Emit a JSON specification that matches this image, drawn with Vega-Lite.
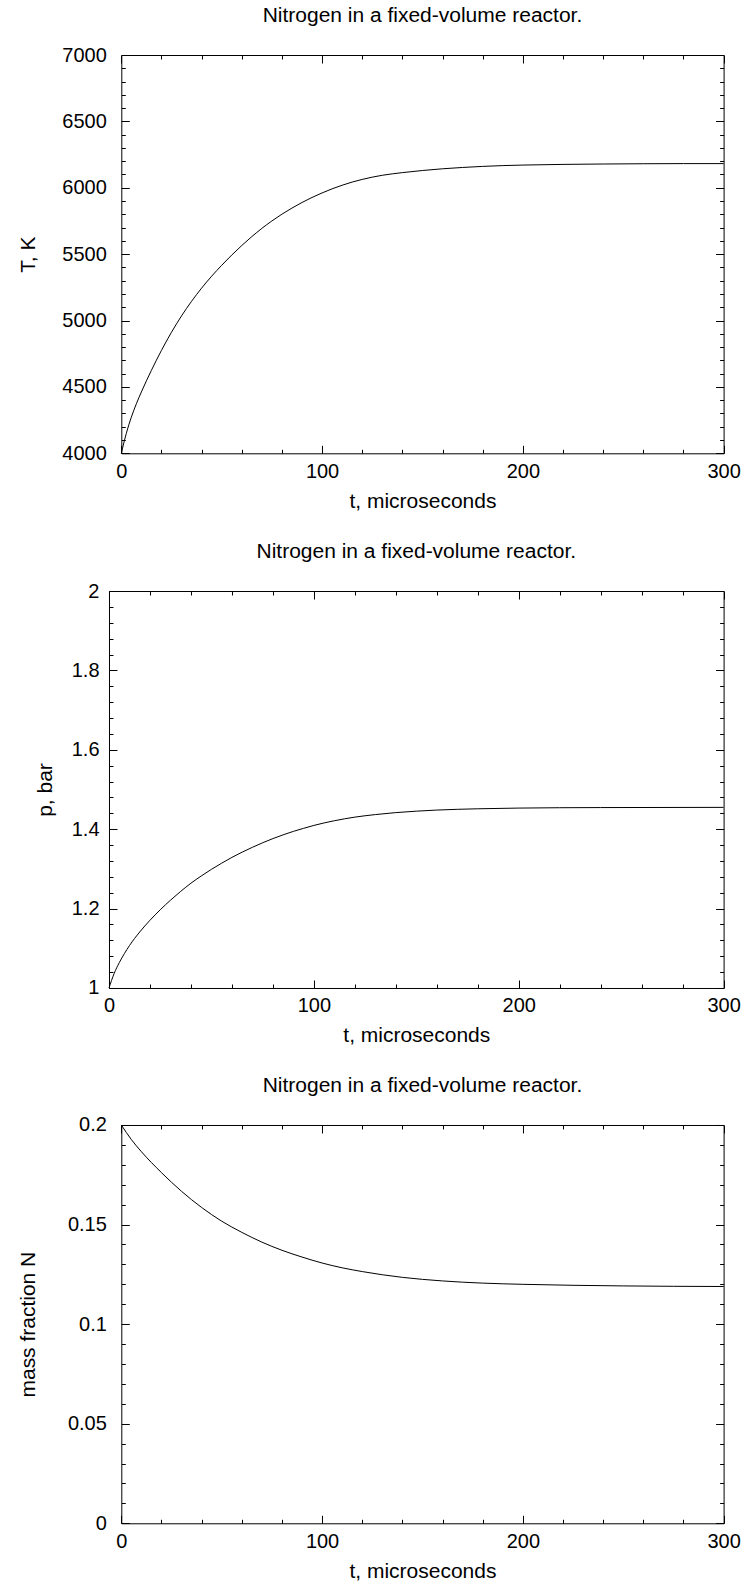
{
  "$schema": "https://vega.github.io/schema/vega-lite/v6.json",
  "padding": {"left": 17, "top": 5, "right": 5, "bottom": 5},
  "bounds": "flush",
  "spacing": 137,
  "config": {
    "view": {"stroke": null},
    "font": "Liberation Sans",
    "axis": {
      "domainColor": "black", "domainWidth": 1, "tickColor": "black", "tickWidth": 1,
      "labelColor": "black", "labelFontSize": 20, "titleFontSize": 21, "titleFontWeight": "normal",
      "titleColor": "black", "labelFlush": false, "labelOverlap": false, "grid": false,
      "labelFont": "Liberation Sans", "titleFont": "Liberation Sans"
    },
    "title": {"fontSize": 21, "fontWeight": "normal", "color": "black", "font": "Liberation Sans", "frame": "group", "anchor": "middle", "offset": 19, "baseline": "alphabetic"}
  },
  "datasets": {
    "T": [
      {"t": 0, "v": 4000}, {"t": 2.5, "v": 4150}, {"t": 5, "v": 4272}, {"t": 7.5, "v": 4373},
      {"t": 10, "v": 4462}, {"t": 15, "v": 4625}, {"t": 20, "v": 4775}, {"t": 25, "v": 4912},
      {"t": 30, "v": 5035}, {"t": 35, "v": 5145}, {"t": 40, "v": 5244}, {"t": 45, "v": 5334},
      {"t": 50, "v": 5416}, {"t": 55, "v": 5493}, {"t": 60, "v": 5565}, {"t": 65, "v": 5632},
      {"t": 70, "v": 5694}, {"t": 75, "v": 5750}, {"t": 80, "v": 5801}, {"t": 85, "v": 5847},
      {"t": 90, "v": 5889}, {"t": 95, "v": 5927}, {"t": 100, "v": 5961}, {"t": 105, "v": 5992},
      {"t": 110, "v": 6019}, {"t": 115, "v": 6043}, {"t": 120, "v": 6063}, {"t": 125, "v": 6080},
      {"t": 130, "v": 6094}, {"t": 135, "v": 6105}, {"t": 140, "v": 6114}, {"t": 150, "v": 6130},
      {"t": 160, "v": 6143}, {"t": 170, "v": 6153}, {"t": 180, "v": 6161}, {"t": 190, "v": 6167},
      {"t": 200, "v": 6171}, {"t": 220, "v": 6176}, {"t": 240, "v": 6179}, {"t": 260, "v": 6181},
      {"t": 280, "v": 6182}, {"t": 300, "v": 6182}
    ],
    "P": [
      {"t": 0, "v": 1.0}, {"t": 2.5, "v": 1.0364}, {"t": 5, "v": 1.0637}, {"t": 7.5, "v": 1.0865},
      {"t": 10, "v": 1.1069}, {"t": 15, "v": 1.1411}, {"t": 20, "v": 1.1706}, {"t": 25, "v": 1.197},
      {"t": 30, "v": 1.2211}, {"t": 35, "v": 1.2434}, {"t": 40, "v": 1.2639}, {"t": 45, "v": 1.2821},
      {"t": 50, "v": 1.2989}, {"t": 55, "v": 1.3144}, {"t": 60, "v": 1.329}, {"t": 65, "v": 1.3422},
      {"t": 70, "v": 1.3544}, {"t": 75, "v": 1.3658}, {"t": 80, "v": 1.3763}, {"t": 85, "v": 1.3858},
      {"t": 90, "v": 1.3945}, {"t": 95, "v": 1.4022}, {"t": 100, "v": 1.4095}, {"t": 110, "v": 1.4213},
      {"t": 120, "v": 1.4304}, {"t": 130, "v": 1.4368}, {"t": 140, "v": 1.4418}, {"t": 150, "v": 1.4454},
      {"t": 160, "v": 1.4482}, {"t": 180, "v": 1.4514}, {"t": 200, "v": 1.4532}, {"t": 240, "v": 1.4545},
      {"t": 300, "v": 1.455}
    ],
    "Y": [
      {"t": 0, "v": 0.2}, {"t": 5, "v": 0.1927}, {"t": 10, "v": 0.1866}, {"t": 20, "v": 0.1761},
      {"t": 30, "v": 0.1667}, {"t": 40, "v": 0.1586}, {"t": 50, "v": 0.1517}, {"t": 60, "v": 0.1461},
      {"t": 70, "v": 0.1412}, {"t": 80, "v": 0.1371}, {"t": 90, "v": 0.1337}, {"t": 100, "v": 0.1307},
      {"t": 110, "v": 0.1283}, {"t": 120, "v": 0.1264}, {"t": 140, "v": 0.1235}, {"t": 160, "v": 0.1217},
      {"t": 180, "v": 0.1206}, {"t": 200, "v": 0.12}, {"t": 250, "v": 0.1192}, {"t": 300, "v": 0.1189}
    ]
  },
  "vconcat": [
    {
      "width": 614.6, "height": 398.3,
      "title": {"text": "Nitrogen in a fixed-volume reactor.", "dx": 6.15},
      "data": {"name": "T"},
      "resolve": {"axis": {"x": "independent", "y": "independent"}},
      "layer": [
        {
          "mark": {"type": "line", "color": "black", "strokeWidth": 1, "interpolate": "monotone"},
          "encoding": {
            "x": {"field": "t", "type": "quantitative", "scale": {"domain": [0, 300], "nice": false, "range": [12.3, 614.6]},
              "axis": {"orient": "bottom", "values": [0,20,40,60,80,100,120,140,160,180,200,220,240,260,280,300], "format": "d",
                "labelExpr": "datum.value % 100 === 0 ? datum.label : ''",
                "tickSize": {"condition": {"test": "datum.value % 100 === 0", "value": -8}, "value": -4},
                "labelPadding": 16, "title": "t, microseconds", "titlePadding": 5}},
            "y": {"field": "v", "type": "quantitative", "scale": {"domain": [4000, 7000], "nice": false, "zero": false},
              "axis": {"orient": "left", "offset": -12.3, "values": [4000,4100,4200,4300,4400,4500,4600,4700,4800,4900,5000,5100,5200,5300,5400,5500,5600,5700,5800,5900,6000,6100,6200,6300,6400,6500,6600,6700,6800,6900,7000], "format": "d",
                "labelExpr": "datum.value % 500 === 0 ? datum.label : ''",
                "tickSize": {"condition": {"test": "datum.value % 500 === 0", "value": -8}, "value": -4},
                "labelPadding": 23, "title": "T, K", "titlePadding": 23}}
          }
        },
        {
          "mark": {"type": "line", "opacity": 0},
          "encoding": {
            "x": {"field": "t", "type": "quantitative", "scale": {"domain": [0, 300], "nice": false, "range": [12.3, 614.6]},
              "axis": {"orient": "top", "values": [0,20,40,60,80,100,120,140,160,180,200,220,240,260,280,300], "labels": false,
                "tickSize": {"condition": {"test": "datum.value % 100 === 0", "value": -8}, "value": -4}, "title": null}},
            "y": {"field": "v", "type": "quantitative", "scale": {"domain": [4000, 7000], "nice": false, "zero": false},
              "axis": {"orient": "right", "values": [4000,4100,4200,4300,4400,4500,4600,4700,4800,4900,5000,5100,5200,5300,5400,5500,5600,5700,5800,5900,6000,6100,6200,6300,6400,6500,6600,6700,6800,6900,7000], "labels": false,
                "tickSize": {"condition": {"test": "datum.value % 500 === 0", "value": -8}, "value": -4}, "title": null}}
          }
        }
      ]
    },
    {
      "width": 614.6, "height": 397,
      "title": {"text": "Nitrogen in a fixed-volume reactor."},
      "data": {"name": "P"},
      "resolve": {"axis": {"x": "independent", "y": "independent"}},
      "layer": [
        {
          "mark": {"type": "line", "color": "black", "strokeWidth": 1, "interpolate": "monotone"},
          "encoding": {
            "x": {"field": "t", "type": "quantitative", "scale": {"domain": [0, 300], "nice": false},
              "axis": {"orient": "bottom", "values": [0,20,40,60,80,100,120,140,160,180,200,220,240,260,280,300], "format": "d",
                "labelExpr": "datum.value % 100 === 0 ? datum.label : ''",
                "tickSize": {"condition": {"test": "datum.value % 100 === 0", "value": -8}, "value": -4},
                "labelPadding": 16, "title": "t, microseconds", "titlePadding": 5}},
            "y": {"field": "v", "type": "quantitative", "scale": {"domain": [1, 2], "nice": false, "zero": false},
              "axis": {"orient": "left", "values": [1,1.04,1.08,1.12,1.16,1.2,1.24,1.28,1.32,1.36,1.4,1.44,1.48,1.52,1.56,1.6,1.64,1.68,1.72,1.76,1.8,1.84,1.88,1.92,1.96,2], "format": "~g",
                "labelExpr": "abs(datum.value * 5 - round(datum.value * 5)) < 0.001 ? datum.label : ''",
                "tickSize": {"condition": {"test": "abs(datum.value * 5 - round(datum.value * 5)) < 0.001", "value": -8}, "value": -4},
                "labelPadding": 18, "title": "p, bar", "titlePadding": 16}}
          }
        },
        {
          "mark": {"type": "line", "opacity": 0},
          "encoding": {
            "x": {"field": "t", "type": "quantitative", "scale": {"domain": [0, 300], "nice": false},
              "axis": {"orient": "top", "values": [0,20,40,60,80,100,120,140,160,180,200,220,240,260,280,300], "labels": false,
                "tickSize": {"condition": {"test": "datum.value % 100 === 0", "value": -8}, "value": -4}, "title": null}},
            "y": {"field": "v", "type": "quantitative", "scale": {"domain": [1, 2], "nice": false, "zero": false},
              "axis": {"orient": "right", "values": [1,1.04,1.08,1.12,1.16,1.2,1.24,1.28,1.32,1.36,1.4,1.44,1.48,1.52,1.56,1.6,1.64,1.68,1.72,1.76,1.8,1.84,1.88,1.92,1.96,2], "labels": false,
                "tickSize": {"condition": {"test": "abs(datum.value * 5 - round(datum.value * 5)) < 0.001", "value": -8}, "value": -4}, "title": null}}
          }
        }
      ]
    },
    {
      "width": 614.6, "height": 398.3,
      "title": {"text": "Nitrogen in a fixed-volume reactor.", "dx": 6.15},
      "data": {"name": "Y"},
      "resolve": {"axis": {"x": "independent", "y": "independent"}},
      "layer": [
        {
          "mark": {"type": "line", "color": "black", "strokeWidth": 1, "interpolate": "monotone"},
          "encoding": {
            "x": {"field": "t", "type": "quantitative", "scale": {"domain": [0, 300], "nice": false, "range": [12.3, 614.6]},
              "axis": {"orient": "bottom", "values": [0,20,40,60,80,100,120,140,160,180,200,220,240,260,280,300], "format": "d",
                "labelExpr": "datum.value % 100 === 0 ? datum.label : ''",
                "tickSize": {"condition": {"test": "datum.value % 100 === 0", "value": -8}, "value": -4},
                "labelPadding": 16, "title": "t, microseconds", "titlePadding": 5}},
            "y": {"field": "v", "type": "quantitative", "scale": {"domain": [0, 0.2], "nice": false, "zero": false},
              "axis": {"orient": "left", "offset": -12.3, "values": [0,0.01,0.02,0.03,0.04,0.05,0.06,0.07,0.08,0.09,0.1,0.11,0.12,0.13,0.14,0.15,0.16,0.17,0.18,0.19,0.2], "format": "~g",
                "labelExpr": "abs(datum.value * 20 - round(datum.value * 20)) < 0.001 ? datum.label : ''",
                "tickSize": {"condition": {"test": "abs(datum.value * 20 - round(datum.value * 20)) < 0.001", "value": -8}, "value": -4},
                "labelPadding": 23, "title": "mass fraction N", "titlePadding": 29}}
          }
        },
        {
          "mark": {"type": "line", "opacity": 0},
          "encoding": {
            "x": {"field": "t", "type": "quantitative", "scale": {"domain": [0, 300], "nice": false, "range": [12.3, 614.6]},
              "axis": {"orient": "top", "values": [0,20,40,60,80,100,120,140,160,180,200,220,240,260,280,300], "labels": false,
                "tickSize": {"condition": {"test": "datum.value % 100 === 0", "value": -8}, "value": -4}, "title": null}},
            "y": {"field": "v", "type": "quantitative", "scale": {"domain": [0, 0.2], "nice": false, "zero": false},
              "axis": {"orient": "right", "values": [0,0.01,0.02,0.03,0.04,0.05,0.06,0.07,0.08,0.09,0.1,0.11,0.12,0.13,0.14,0.15,0.16,0.17,0.18,0.19,0.2], "labels": false,
                "tickSize": {"condition": {"test": "abs(datum.value * 20 - round(datum.value * 20)) < 0.001", "value": -8}, "value": -4}, "title": null}}
          }
        }
      ]
    }
  ]
}
